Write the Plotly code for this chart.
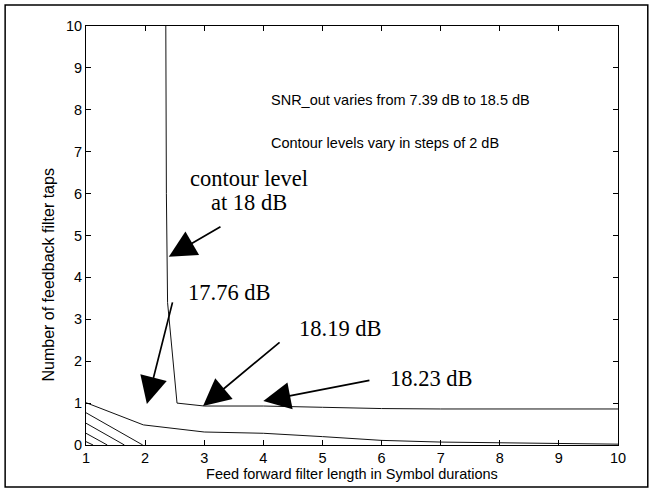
import plotly.graph_objects as go

# Contour lines of SNR_out over (feed-forward length, feedback taps)
c18_x = [2.35, 2.36, 2.38, 2.54, 3.0, 4.0, 5.0, 6.0, 7.0, 8.0, 9.0, 10.0]
c18_y = [10.0, 6.0, 3.4, 1.0, 0.93, 0.93, 0.90, 0.87, 0.86, 0.86, 0.86, 0.86]

c16_x = [1.0, 1.97, 3.0, 4.0, 5.0, 6.0, 7.0, 8.0, 9.0, 10.0]
c16_y = [1.01, 0.48, 0.31, 0.28, 0.20, 0.11, 0.07, 0.05, 0.03, 0.02]

c14_x = [1.0, 1.96]
c14_y = [0.77, 0.0]
c12_x = [1.0, 1.65]
c12_y = [0.52, 0.0]
c10_x = [1.0, 1.36]
c10_y = [0.28, 0.0]
c08_x = [1.0, 1.12]
c08_y = [0.08, 0.0]

contours = [(c18_x, c18_y), (c16_x, c16_y), (c14_x, c14_y),
            (c12_x, c12_y), (c10_x, c10_y), (c08_x, c08_y)]

x_ticks = [1, 2, 3, 4, 5, 6, 7, 8, 9, 10]
y_ticks = [0, 1, 2, 3, 4, 5, 6, 7, 8, 9, 10]

x_title = "Feed forward filter length in Symbol durations"
y_title = "Number of feedback filter taps"

# Level labels: (text, x, y) and arrows: (tip x, tip y, tail x, tail y)
level_labels = [("contour level", 3.76, 6.36), ("at 18 dB", 3.76, 5.78),
                ("17.76 dB", 3.42, 3.63), ("18.19 dB", 5.30, 2.77),
                ("18.23 dB", 6.85, 1.58)]
arrows = [(2.40, 4.49, 3.30, 5.23), (2.03, 0.98, 2.47, 3.44),
          (2.98, 0.93, 4.30, 2.48), (4.00, 1.05, 5.82, 1.55)]
notes = [("SNR_out varies from 7.39 dB to 18.5 dB", 4.09, 8.23),
         ("Contour levels vary in steps of 2 dB", 4.09, 7.21)]

fig = go.Figure()
for cx, cy in contours:
    fig.add_trace(go.Scatter(x=cx, y=cy, mode="lines",
                             line=dict(color="#111111", width=1),
                             showlegend=False, hoverinfo="skip"))

SANS = "Liberation Sans, Arial, sans-serif"
serif = dict(family="Liberation Serif, Times New Roman, serif", size=22.5, color="black")
sans = dict(family=SANS, size=14.5, color="black")

annotations = []
for text, x, y in level_labels:
    annotations.append(dict(x=x, y=y, xref="x", yref="y", text=text, showarrow=False,
                            font=serif, xanchor="center", yanchor="middle"))
for tx, ty, sx, sy in arrows:
    annotations.append(dict(x=tx, y=ty, ax=sx, ay=sy, xref="x", yref="y",
                            axref="x", ayref="y", text="", showarrow=True,
                            arrowhead=2, arrowsize=3.2, arrowwidth=1.7,
                            arrowcolor="black"))
for text, x, y in notes:
    annotations.append(dict(x=x, y=y, xref="x", yref="y", text=text, showarrow=False,
                            font=sans, xanchor="left", yanchor="middle"))

# y-axis label, set beside the axis
annotations.append(dict(x=-0.071, xref="paper", y=4.05, yref="y", text=y_title,
                        textangle=-90, showarrow=False, xanchor="center",
                        yanchor="middle", font=dict(family=SANS, size=16, color="black")))

axis_common = dict(showgrid=False, zeroline=False, showline=True, linecolor="black",
                   linewidth=1, mirror="ticks", ticks="inside", ticklen=5,
                   tickcolor="black", tickwidth=1,
                   tickfont=dict(family=SANS, size=14.5, color="black"))

fig.update_xaxes(range=[1, 10], tickvals=x_ticks,
                 title=dict(text=x_title,
                            font=dict(family=SANS, size=14.5, color="black"), standoff=0),
                 **axis_common)
fig.update_yaxes(range=[0, 10], tickvals=y_ticks, **axis_common)

# Outer figure frame
fig.add_shape(type="rect", xref="paper", yref="paper",
              x0=-0.152, x1=1.056, y0=-0.100, y1=1.050,
              line=dict(color="black", width=1.5), layer="below")

fig.update_layout(width=654, height=491, paper_bgcolor="white", plot_bgcolor="white",
                  margin=dict(l=86, r=36, t=26, b=46, autoexpand=False),
                  annotations=annotations)

fig.write_html("out.html")
